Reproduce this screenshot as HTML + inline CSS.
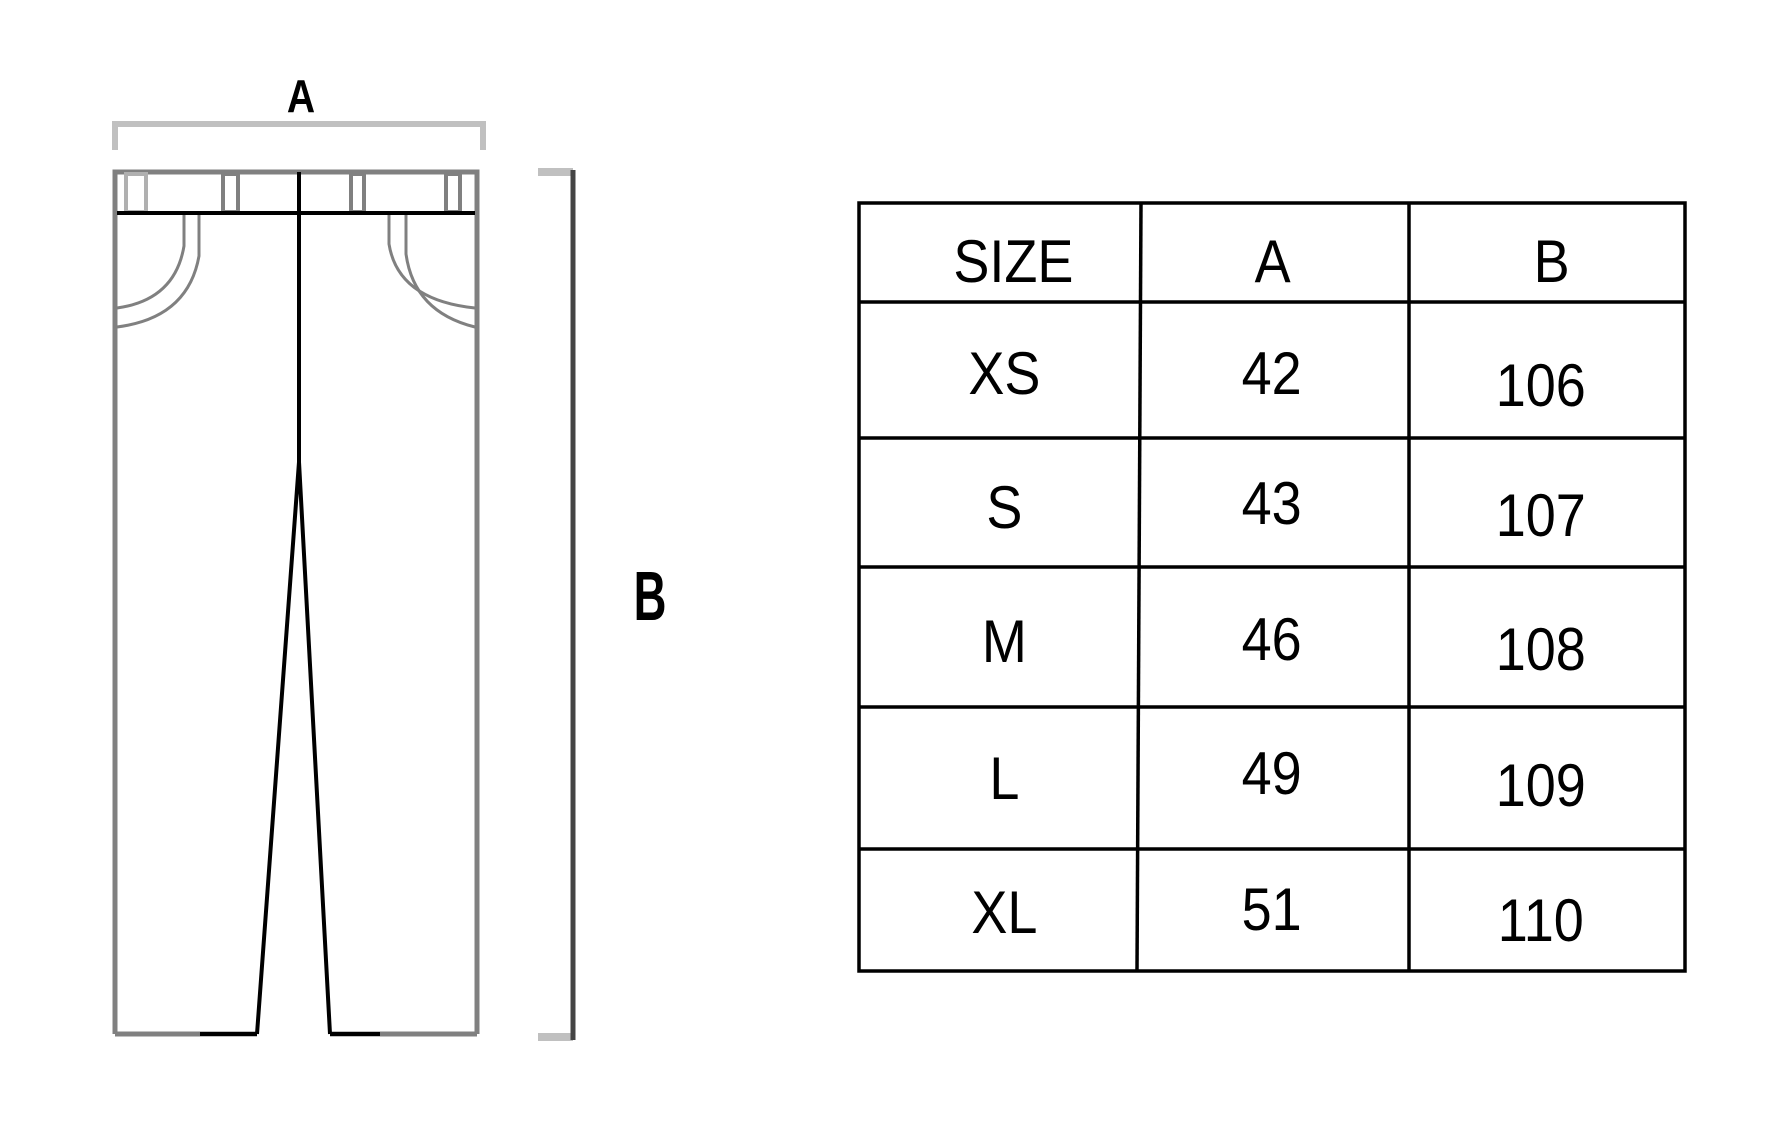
<!DOCTYPE html>
<html><head><meta charset="utf-8"><style>
html,body{margin:0;padding:0;background:#fff;}
svg{display:block;}
text{font-family:"Liberation Sans",sans-serif;}
</style></head><body>
<svg width="1792" height="1134" viewBox="0 0 1792 1134" xmlns="http://www.w3.org/2000/svg">
<text x="301" y="112" font-size="46" font-weight="bold" text-anchor="middle" fill="#000" transform="translate(301 0) scale(0.85 1) translate(-301 0)">A</text>
<path d="M115 150 V124 H483 V150" fill="none" stroke="#c0c0c0" stroke-width="6"/>
<g fill="none" stroke="#808080" stroke-width="5">
<path d="M115 1034 V172 H477 V1034"/>
<line x1="115" y1="1034" x2="257" y2="1034"/>
<line x1="330" y1="1034" x2="477" y2="1034"/>
<rect x="126" y="174" width="20" height="38" stroke-width="4" stroke="#b0b0b0"/>
<rect x="223" y="174" width="15" height="38" stroke-width="4"/>
<rect x="351" y="174" width="13" height="38" stroke-width="4"/>
<rect x="446" y="174" width="14" height="38" stroke-width="4"/>
<path d="M184 214 V246 Q175 300 117 308" stroke-width="3"/>
<path d="M199 214 V256 Q188 318 117 327" stroke-width="3"/>
<path d="M389 214 V244 Q398 300 475 308" stroke-width="3"/>
<path d="M406 214 V254 Q414 312 475 327" stroke-width="3"/>
</g>
<g fill="none" stroke="#000" stroke-width="4">
<line x1="117" y1="213" x2="475" y2="213"/>
<line x1="299" y1="172" x2="299" y2="462"/>
<polyline points="257,1034 299,462 330,1034"/>
<line x1="200" y1="1034" x2="257" y2="1034"/>
<line x1="330" y1="1034" x2="380" y2="1034"/>
</g>
<line x1="538" y1="172" x2="573" y2="172" stroke="#c0c0c0" stroke-width="8"/>
<line x1="538" y1="1037" x2="573" y2="1037" stroke="#c0c0c0" stroke-width="8"/>
<line x1="573" y1="170" x2="573" y2="1040" stroke="#444" stroke-width="5"/>
<text x="650" y="620" font-size="70" font-weight="bold" text-anchor="middle" fill="#000" transform="translate(650 0) scale(0.65 1) translate(-650 0)">B</text>
<g stroke="#000" stroke-width="3.5" fill="none">
<rect x="859" y="203" width="826" height="768"/>
<line x1="859" y1="302" x2="1685" y2="302"/>
<line x1="859" y1="438" x2="1685" y2="438"/>
<line x1="859" y1="567" x2="1685" y2="567"/>
<line x1="859" y1="707" x2="1685" y2="707"/>
<line x1="859" y1="849" x2="1685" y2="849"/>
<line x1="1141" y1="203" x2="1137" y2="971"/>
<line x1="1409" y1="203" x2="1409" y2="971"/>
</g>
<g font-size="60" fill="#000" text-anchor="middle">
<g transform="scale(0.9 1)">
<text x="1126" y="282">SIZE</text>
<text x="1414" y="282">A</text>
<text x="1724" y="282">B</text>
<text x="1116" y="394">XS</text>
<text x="1413" y="394">42</text>
<text x="1712" y="406">106</text>
<text x="1116" y="528">S</text>
<text x="1413" y="524">43</text>
<text x="1712" y="536">107</text>
<text x="1116" y="662">M</text>
<text x="1413" y="660">46</text>
<text x="1712" y="670">108</text>
<text x="1116" y="799">L</text>
<text x="1413" y="794">49</text>
<text x="1712" y="806">109</text>
<text x="1116" y="933">XL</text>
<text x="1413" y="930">51</text>
<text x="1712" y="941">110</text>
</g>
</g>
</svg>
</body></html>
